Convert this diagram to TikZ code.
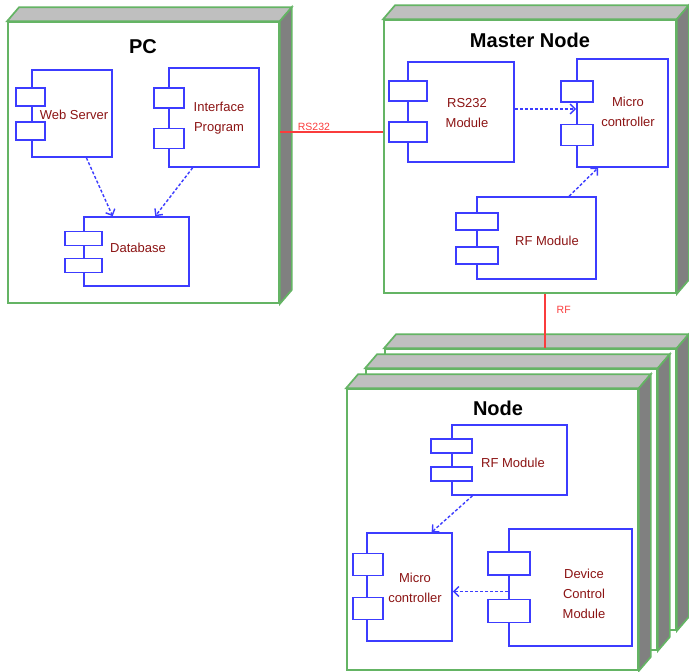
\documentclass[tikz,border=0pt]{standalone}
\usepackage{fontspec}
\setmainfont{Liberation Sans}
\usepackage{tikz}
\usetikzlibrary{calc, arrows.meta}
\definecolor{devgreen}{RGB}{100,180,100}
\definecolor{compblue}{RGB}{60,60,255}
\definecolor{textred}{RGB}{140,20,20}
\definecolor{linkred}{RGB}{250,60,60}

\tikzset{
  device/.style={draw=devgreen, line width=1.7pt, fill=white, inner sep=0pt},
  facetop/.style={draw=devgreen, line width=1.7pt, fill=gray!50},
  faceside/.style={draw=devgreen, line width=1.7pt, fill=gray},
  comp/.style={draw=compblue, line width=1.6pt, inner sep=0pt},
  port/.style={draw=compblue, line width=1.6pt, fill=white, inner sep=0pt},
  lbl/.style={text=textred, font=\fontsize{13}{20}\selectfont, align=center, inner sep=0pt},
  title/.style={font=\fontsize{20}{24}\selectfont\bfseries, inner sep=0pt},
  dep/.style={draw=compblue, line width=1.4pt, dash pattern=on 3pt off 2pt, -{Straight Barb[length=5pt,width=10pt]}},
  link/.style={draw=linkred, line width=1.4pt},
  linklbl/.style={text=linkred, font=\fontsize{10.5}{12}\selectfont, inner sep=1pt},
}

\begin{document}
\begin{tikzpicture}[x=1pt, y=-1pt]
    \useasboundingbox (0,0) rectangle (689,672);

    % --- device boxes (front face + top + side) ---
    \def\dx{12}
    \def\dy{-14}
    \foreach \n/\x/\y/\w/\h in {pc/143.5/162.5/271/281, master/530/156.5/292/273,
        nback/530.5/489.5/291/281, nmid/511.5/509.5/291/281, nfront/492.5/529.5/291/281} {
      \node[device, minimum width=\w, minimum height=\h] (\n) at (\x,\y) {};
      \filldraw[facetop] (\n.north west) -- ++(\dx,\dy) -- ($(\n.north east)+(\dx,\dy)$) -- (\n.north east) -- cycle;
      \filldraw[faceside] (\n.north east) -- ++(\dx,\dy) -- ($(\n.south east)+(\dx,\dy)$) -- (\n.south east) -- cycle;
    }

    % --- titles ---
    \node[title] (pcT) at (143,47) {PC};
    \node[title] (masterT) at (530,40) {Master Node};
    \node[title] (nodeT) at (498,408) {Node};

    % --- PC ---
    \node[comp, minimum width=80, minimum height=87] (ws) at (72,113.5) {};
    \node[port, minimum width=29, minimum height=18] (ws1) at (30.5,97) {};
    \node[port, minimum width=29, minimum height=18] (ws2) at (30.5,131) {};
    \node[lbl] (wsT) at (74,115) {Web Server};

    \node[comp, minimum width=90, minimum height=99] (ip) at (214,117.5) {};
    \node[port, minimum width=30, minimum height=20] (ip1) at (169,98) {};
    \node[port, minimum width=30, minimum height=20] (ip2) at (169,138.5) {};
    \node[lbl] (ipT) at (219,118) {Interface\\Program};

    \node[comp, minimum width=105, minimum height=69] (db) at (136.5,251.5) {};
    \node[port, minimum width=37, minimum height=14] (db1) at (83.5,238.5) {};
    \node[port, minimum width=37, minimum height=14] (db2) at (83.5,265.5) {};
    \node[lbl] (dbT) at (138,248) {Database};

    % --- Master Node ---
    \node[comp, minimum width=106, minimum height=100] (rs) at (461,112) {};
    \node[port, minimum width=38, minimum height=20] (rs1) at (408,91) {};
    \node[port, minimum width=38, minimum height=20] (rs2) at (408,132) {};
    \node[lbl] (rsT) at (467,113) {RS232\\Module};

    \node[comp, minimum width=91, minimum height=108] (mc) at (622.5,113) {};
    \node[port, minimum width=32, minimum height=21] (mc1) at (577,91.5) {};
    \node[port, minimum width=32, minimum height=21] (mc2) at (577,135) {};
    \node[lbl] (mcT) at (628,112) {Micro\\controller};

    \node[comp, minimum width=119, minimum height=82] (rfm) at (536.5,238) {};
    \node[port, minimum width=42, minimum height=17] (rfm1) at (477,221.5) {};
    \node[port, minimum width=42, minimum height=17] (rfm2) at (477,255.5) {};
    \node[lbl] (rfmT) at (547,241) {RF Module};

    % --- Node ---
    \node[comp, minimum width=115, minimum height=70] (rfn) at (509.5,460) {};
    \node[port, minimum width=41, minimum height=14] (rfn1) at (451.5,446) {};
    \node[port, minimum width=41, minimum height=14] (rfn2) at (451.5,474) {};
    \node[lbl] (rfnT) at (513,463) {RF Module};

    \node[comp, minimum width=85, minimum height=108] (mcn) at (409.5,587) {};
    \node[port, minimum width=30, minimum height=22] (mcn1) at (368,564.5) {};
    \node[port, minimum width=30, minimum height=22] (mcn2) at (368,608.5) {};
    \node[lbl] (mcnT) at (415,588) {Micro\\controller};

    \node[comp, minimum width=123, minimum height=117] (dcm) at (570.5,587.5) {};
    \node[port, minimum width=42, minimum height=23] (dcm1) at (509,563.5) {};
    \node[port, minimum width=42, minimum height=23] (dcm2) at (509,611) {};
    \node[lbl] (dcmT) at (584,594) {Device\\Control\\Module};

    % --- dependencies ---
    \draw[dep] (ws.-72) -- (db.124);
    \draw[dep] (ip.247) -- (db.62);
    \draw[dep] ([yshift=3pt]rs.east) -- ([yshift=3pt]rs.east -| mc.west);
    \draw[dep] (rfm.52) -- (mc.246);
    \draw[dep] (rfn.224) -- (mcn.68);
    \draw[dep] ([yshift=-4pt]dcm.west) -- ([yshift=-4pt]dcm.west -| mcn.east);

    % --- links ---
    \coordinate (rsy) at (0,132);
    \coordinate (rfx) at (545,0);
    \draw[link] (pc.east |- rsy) -- (master.west |- rsy) node[linklbl, pos=0.33, above] (rsL) {RS232};
    \draw[link] (master.south -| rfx) -- (nback.north -| rfx) node[linklbl, pos=0.3, right, xshift=10pt] (rfL) {RF};

\end{tikzpicture}
\end{document}
